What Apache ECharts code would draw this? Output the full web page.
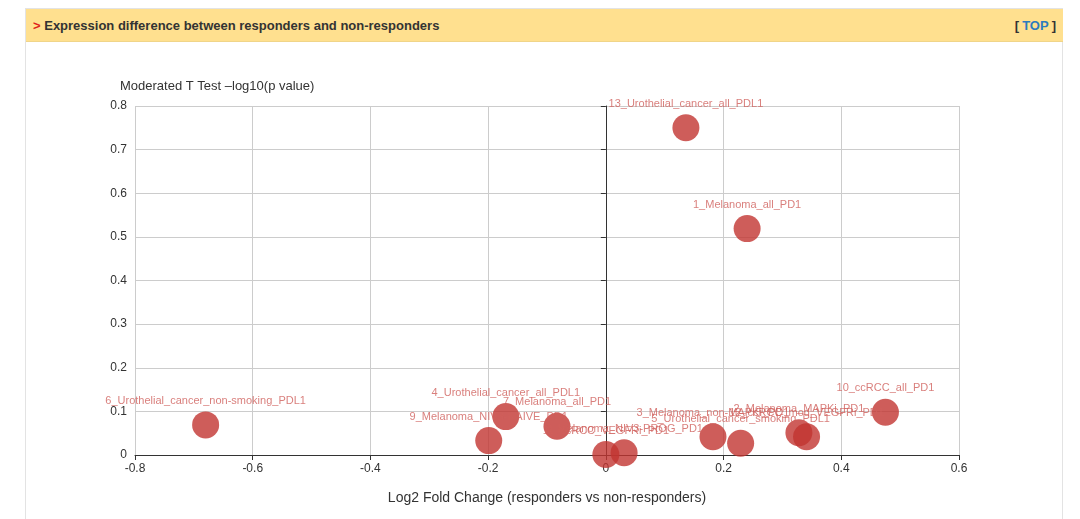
<!DOCTYPE html>
<html>
<head>
<meta charset="utf-8">
<script src="https://cdn.jsdelivr.net/npm/echarts@6/dist/echarts.min.js"></script>
<style>
  html, body { margin: 0; padding: 0; background: #fff; width: 1080px; height: 519px; overflow: hidden; font-family: "Liberation Sans", Arial, sans-serif; }
  #box { position: absolute; left: 25px; top: 8px; width: 1038px; height: 520px; border: 1px solid #e3e3e3; box-sizing: border-box; }
  #hdr { position: absolute; left: 26px; top: 9px; width: 1037px; height: 33px; background: #ffe08f; border-bottom: 1px solid #f0d589; box-sizing: border-box; z-index: 2; }
  #hdr .t { position: absolute; left: 7px; top: 9px; font-size: 13px; font-weight: bold; color: #333; }
  #hdr .t span { color: #e0201b; }
  #hdr .top { position: absolute; right: 7px; top: 9px; font-size: 13px; font-weight: bold; color: #333; }
  #hdr .top span { color: #2c7bbf; margin: 0 3px; }
  #chart { position: absolute; left: 0; top: 0; width: 1080px; height: 519px; z-index: 1; }
</style>
</head>
<body>
<div id="box"></div>
<div id="chart"></div>
<div id="hdr"><div class="t"><span>&gt;</span> Expression difference between responders and non-responders</div><div class="top">[<span>TOP</span>]</div></div>
<script>
const names = [
  "1_Melanoma_all_PD1",
  "2_Melanoma_MAPKi_PD1",
  "3_Melanoma_non-MAPKi_PD1",
  "4_Urothelial_cancer_all_PDL1",
  "5_Urothelial_cancer_smoking_PDL1",
  "6_Urothelial_cancer_non-smoking_PDL1",
  "7_Melanoma_all_PD1",
  "8_Melanoma_NIV3-PROG_PD1",
  "9_Melanoma_NIV3-NAIVE_PD1",
  "10_ccRCC_all_PD1",
  "11_ccRCC_VEGFRi_PD1",
  "12_ccRCC_mod_VEGFRi_PD1",
  "13_Urothelial_cancer_all_PDL1"
];
const log2FC = [0.240, 0.328, 0.182, -0.170, 0.229, -0.680, -0.083, 0.031, -0.199, 0.475, 0.000, 0.341, 0.136];
const negLog10P = [0.519, 0.051, 0.042, 0.088, 0.027, 0.069, 0.066, 0.005, 0.033, 0.098, 0.001, 0.042, 0.750];
const xTitle = "Log2 Fold Change (responders vs non-responders)";
const yTitle = "Moderated T Test \u2013log10(p value)";

const data = names.map((n, i) => ({ name: n, value: [log2FC[i], negLog10P[i]] }));

const chart = echarts.init(document.getElementById('chart'), null, { renderer: 'canvas' });
chart.setOption({
  animation: false,
  title: {
    text: yTitle, left: 115, top: 75,
    textStyle: { fontSize: 13, fontWeight: 'normal', color: '#333', fontFamily: 'Liberation Sans, Arial, sans-serif' }
  },
  grid: { left: 135, top: 106, width: 824, height: 349, containLabel: false },
  xAxis: {
    type: 'value', min: -0.8, max: 0.6, interval: 0.2,
    name: xTitle, nameLocation: 'middle', nameGap: 36,
    nameTextStyle: { fontSize: 14, color: '#333', fontFamily: 'Liberation Sans, Arial, sans-serif' },
    axisLine: { show: true, onZero: false, lineStyle: { color: '#333' } },
    axisTick: { show: true, lineStyle: { color: '#333' } },
    axisLabel: { color: '#333', fontSize: 12, margin: 8 },
    splitLine: { show: true, lineStyle: { color: '#ccc' } }
  },
  yAxis: {
    type: 'value', min: 0, max: 0.8, interval: 0.1,
    axisLine: { show: true, onZero: true, lineStyle: { color: '#333' } },
    axisTick: { show: true, lineStyle: { color: '#333' } },
    axisLabel: { color: '#333', fontSize: 12, margin: 8 },
    splitLine: { show: true, lineStyle: { color: '#ccc' } }
  },
  series: [{
    type: 'scatter',
    data: data,
    symbolSize: 27,
    itemStyle: { color: '#c23531', opacity: 0.8 },
    label: {
      show: true, position: 'top', distance: 5,
      formatter: p => p.name,
      color: '#d05f5b', fontSize: 11, fontFamily: 'Liberation Sans, Arial, sans-serif'
    },
    emphasis: { disabled: true }
  }]
});
</script>
</body>
</html>
